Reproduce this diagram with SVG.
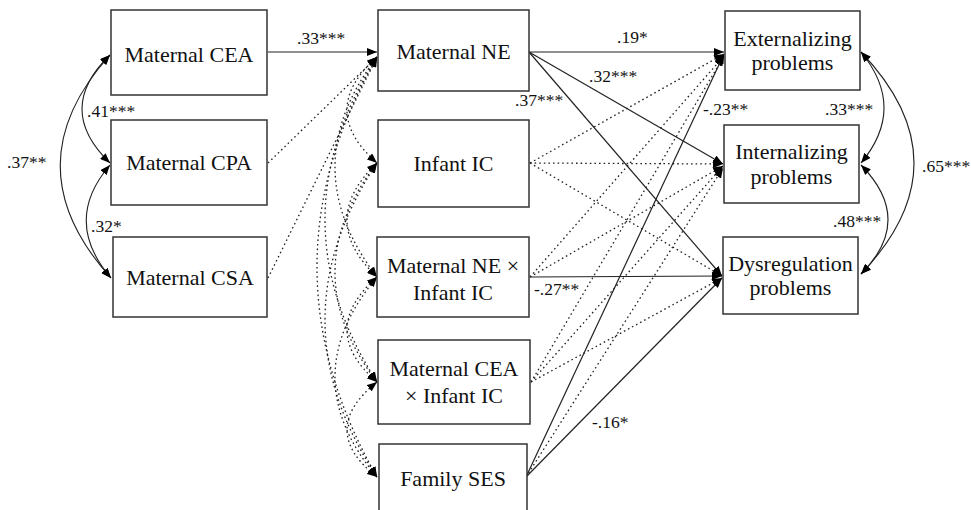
<svg xmlns="http://www.w3.org/2000/svg" width="971" height="510" viewBox="0 0 971 510" font-family="'Liberation Serif', 'Times New Roman', serif">
<style>
  .box{fill:#fff;stroke:#333;stroke-width:1.5}
  .t{font-family:'Liberation Serif','Times New Roman',serif;font-size:22px;fill:#111;text-anchor:middle}
  .lab{font-family:'Liberation Serif','Times New Roman',serif;font-size:17.5px;fill:#111}
  .s{fill:none;stroke:#222;stroke-width:1.2;marker-end:url(#ah)}
  .d{fill:none;stroke:#222;stroke-width:1.3;stroke-dasharray:1.6 3;marker-end:url(#ah)}
  .sc{fill:none;stroke:#222;stroke-width:1.1;marker-end:url(#ah);marker-start:url(#ah)}
  .dc{fill:none;stroke:#222;stroke-width:1.3;stroke-dasharray:1.6 3;marker-end:url(#ah);marker-start:url(#ah)}
</style>
<defs>
  <marker id="ah" viewBox="0 0 10 8" refX="10" refY="4" markerWidth="10" markerHeight="8" markerUnits="userSpaceOnUse" orient="auto-start-reverse">
    <path d="M0,0 L10,4 L0,8 z" fill="#000"/>
  </marker>
</defs>
<rect width="971" height="510" fill="#fff"/>
<g id="connectors">
  <path class="sc" d="M110,55 Q54,109 110,163"/>
  <path class="sc" d="M110,55 Q10,166 111,278"/>
  <path class="sc" d="M110,165 Q62,221 111,278"/>
  <path class="s" d="M268,52 L377,52"/>
  <path class="d" d="M268,163 L377,57"/>
  <path class="d" d="M268,278 L377,57"/>
  <path class="dc" d="M377,57 Q317,110 377,163"/>
  <path class="dc" d="M377,163 Q317,220 377,277"/>
  <path class="dc" d="M377,277 Q317,330 377,382"/>
  <path class="dc" d="M377,382 Q317,430 377,477"/>
  <path class="dc" d="M377,57 Q293,167 377,277"/>
  <path class="dc" d="M377,163 Q293,272 377,382"/>
  <path class="dc" d="M377,277 Q293,377 377,477"/>
  <path class="dc" d="M377,57 Q273,220 377,382"/>
  <path class="dc" d="M377,163 Q273,320 377,477"/>
  <path class="dc" d="M377,57 Q257,267 377,477"/>
  <path class="s" d="M529,52 L724,52"/>
  <path class="s" d="M529,52 L723,164"/>
  <path class="s" d="M529,52 L722,276"/>
  <path class="d" d="M530,163 L724,54"/>
  <path class="d" d="M530,163 L723,164"/>
  <path class="d" d="M530,163 L722,276"/>
  <path class="d" d="M530,277 L724,56"/>
  <path class="d" d="M530,277 L723,166"/>
  <path class="s" d="M530,277 L722,276"/>
  <path class="d" d="M531,382 L724,56"/>
  <path class="d" d="M531,382 L723,166"/>
  <path class="d" d="M531,382 L722,278"/>
  <path class="s" d="M526,477 L724,54"/>
  <path class="d" d="M526,477 L723,168"/>
  <path class="s" d="M526,477 L722,278"/>
  <path class="sc" d="M861,52 Q907,108 861,163"/>
  <path class="sc" d="M861,52 Q967,163 861,274"/>
  <path class="sc" d="M861,165 Q915,220 861,274"/>
  <text class="lab" x="297" y="44">.33***</text>
  <text class="lab" x="87" y="117">.41***</text>
  <text class="lab" x="7" y="168">.37**</text>
  <text class="lab" x="91" y="232">.32*</text>
  <text class="lab" x="617" y="43">.19*</text>
  <text class="lab" x="589" y="82">.32***</text>
  <text class="lab" x="515" y="106">.37***</text>
  <text class="lab" x="703" y="115">-.23**</text>
  <text class="lab" x="825" y="115">.33***</text>
  <text class="lab" x="922" y="172">.65***</text>
  <text class="lab" x="833" y="227">.48***</text>
  <text class="lab" x="534" y="295">-.27**</text>
  <text class="lab" x="592" y="428">-.16*</text>
</g>
<g id="n-cea"><rect class="box" x="111" y="10" width="156" height="85"/><text class="t" x="189" y="62">Maternal CEA</text></g>
<g id="n-cpa"><rect class="box" x="111" y="120" width="156" height="85"/><text class="t" x="189" y="170">Maternal CPA</text></g>
<g id="n-csa"><rect class="box" x="113" y="237" width="154" height="80"/><text class="t" x="190" y="285">Maternal CSA</text></g>
<g id="n-ne"><rect class="box" x="378" y="10" width="151" height="81"/><text class="t" x="453.5" y="59">Maternal NE</text></g>
<g id="n-ic"><rect class="box" x="378" y="120" width="151" height="87"/><text class="t" x="453.5" y="171">Infant IC</text></g>
<g id="n-neic"><rect class="box" x="377" y="237" width="152" height="80"/><text class="t" x="453" y="273">Maternal NE ×</text><text class="t" x="453" y="300">Infant IC</text></g>
<g id="n-ceaic"><rect class="box" x="378" y="340" width="152" height="84"/><text class="t" x="454" y="376">Maternal CEA</text><text class="t" x="454" y="403">× Infant IC</text></g>
<g id="n-ses"><rect class="box" x="379" y="444" width="148" height="80"/><text class="t" x="453" y="486">Family SES</text></g>
<g id="n-ext"><rect class="box" x="725" y="11" width="135" height="79"/><text class="t" x="792.5" y="46">Externalizing</text><text class="t" x="792.5" y="70">problems</text></g>
<g id="n-int"><rect class="box" x="724" y="125" width="135" height="78"/><text class="t" x="791.5" y="159">Internalizing</text><text class="t" x="791.5" y="184">problems</text></g>
<g id="n-dys"><rect class="box" x="723" y="237" width="135" height="77"/><text class="t" x="790.5" y="271">Dysregulation</text><text class="t" x="790.5" y="295">problems</text></g>
</svg>
